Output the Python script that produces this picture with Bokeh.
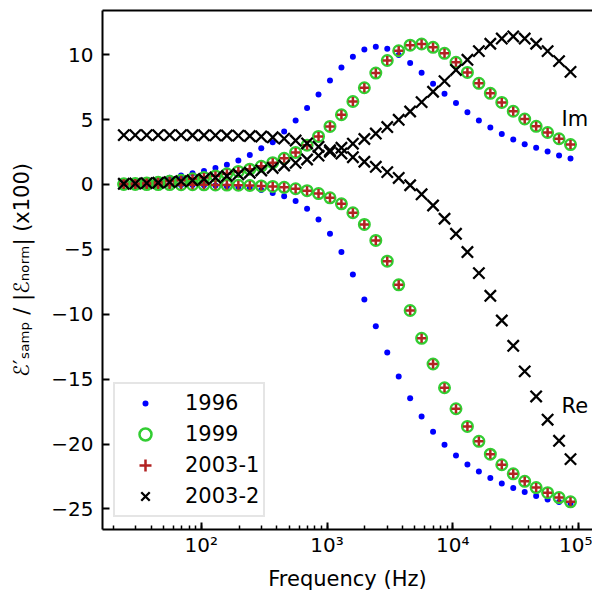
from bokeh.plotting import figure
from bokeh.models import (Range1d, FixedTicker, CustomJSTickFormatter, Legend, LegendItem,
                          LogAxis, Label)
from bokeh.embed import file_html
from bokeh.resources import INLINE

# ---- data ----
freq = [24.25, 29.91, 36.88, 45.49, 56.10, 69.18, 85.32, 105.2, 129.8, 160.0,
        197.4, 243.4, 300.2, 370.2, 456.5, 563.0, 694.4, 856.3, 1056, 1302,
        1606, 1981, 2443, 3013, 3715, 4581, 5649, 6967, 8592, 10598,
        13068, 16117, 19876, 24512, 30227, 37280, 45972, 56700, 69920, 86220]

re_1996 = [-0.01, -0.01, -0.02, -0.02, -0.03, -0.04, -0.05, -0.07, -0.09, -0.13,
           -0.19, -0.28, -0.43, -0.65, -0.90, -1.28, -1.87, -2.70, -3.80, -5.20,
           -6.93, -8.87, -10.93, -12.94, -14.79, -16.46, -17.87, -19.05, -20.05, -20.88,
           -21.57, -22.12, -22.62, -23.04, -23.39, -23.70, -24.00, -24.26, -24.47, -24.58]
im_1996 = [0.20, 0.25, 0.32, 0.40, 0.52, 0.68, 0.87, 1.03, 1.26, 1.52,
           1.85, 2.26, 2.78, 3.26, 4.08, 4.93, 5.88, 6.92, 8.00, 9.00,
           9.84, 10.39, 10.60, 10.45, 9.98, 9.35, 8.60, 7.76, 6.99, 6.27,
           5.57, 4.93, 4.38, 3.89, 3.47, 3.10, 2.82, 2.54, 2.23, 2.00]

re_1999 = [0.00, 0.00, -0.01, -0.01, -0.01, -0.02, -0.02, -0.03, -0.04, -0.05,
           -0.06, -0.08, -0.11, -0.15, -0.22, -0.33, -0.48, -0.70, -1.03, -1.49,
           -2.18, -3.08, -4.31, -5.91, -7.73, -9.71, -11.85, -13.83, -15.66, -17.28,
           -18.64, -19.79, -20.78, -21.59, -22.29, -22.87, -23.35, -23.74, -24.12, -24.45]
im_1999 = [0.05, 0.08, 0.12, 0.17, 0.24, 0.33, 0.43, 0.53, 0.66, 0.82,
           1.00, 1.18, 1.40, 1.68, 2.02, 2.47, 3.02, 3.70, 4.47, 5.37,
           6.39, 7.45, 8.58, 9.55, 10.30, 10.73, 10.82, 10.56, 10.10, 9.41,
           8.63, 7.79, 7.02, 6.32, 5.64, 5.04, 4.48, 4.00, 3.52, 3.07]

re_2003_1 = [0.00, 0.00, -0.01, -0.01, -0.01, -0.02, -0.02, -0.03, -0.04, -0.05,
             -0.06, -0.08, -0.11, -0.15, -0.22, -0.33, -0.48, -0.70, -1.03, -1.49,
             -2.18, -3.08, -4.31, -5.91, -7.73, -9.71, -11.85, -13.83, -15.66, -17.28,
             -18.64, -19.79, -20.78, -21.59, -22.29, -22.87, -23.35, -23.74, -24.12, -24.45]
im_2003_1 = [0.05, 0.08, 0.12, 0.17, 0.24, 0.33, 0.43, 0.53, 0.66, 0.82,
             1.00, 1.18, 1.40, 1.68, 2.02, 2.47, 3.02, 3.70, 4.47, 5.37,
             6.39, 7.45, 8.58, 9.55, 10.30, 10.73, 10.82, 10.56, 10.10, 9.41,
             8.63, 7.79, 7.02, 6.32, 5.64, 5.04, 4.48, 4.00, 3.52, 3.07]

re_2003_2 = [3.80, 3.80, 3.80, 3.80, 3.80, 3.80, 3.79, 3.79, 3.78, 3.77,
             3.76, 3.73, 3.69, 3.63, 3.53, 3.38, 3.16, 2.90, 2.63, 2.38,
             2.10, 1.75, 1.36, 0.95, 0.50, -0.06, -0.76, -1.62, -2.64, -3.80,
             -5.21, -6.83, -8.58, -10.48, -12.43, -14.40, -16.33, -18.12, -19.75, -21.16]
im_2003_2 = [0.05, 0.07, 0.10, 0.13, 0.18, 0.24, 0.32, 0.42, 0.53, 0.65,
             0.78, 0.90, 1.08, 1.27, 1.46, 1.66, 1.92, 2.22, 2.52, 2.82,
             3.14, 3.50, 3.92, 4.42, 4.98, 5.62, 6.34, 7.14, 7.96, 8.82,
             9.60, 10.27, 10.84, 11.24, 11.40, 11.24, 10.84, 10.27, 9.50, 8.67]

series_labels = ["1996", "1999", "2003-1", "2003-2"]
y_ticks = [-25, -20, -15, -10, -5, 0, 5, 10]

FONT = "DejaVu Sans"

p = figure(width=592, height=594, x_axis_type="log", output_backend="svg",
           toolbar_location=None,
           x_range=Range1d(16.42, 128960), y_range=Range1d(-26.58, 13.40),
           min_border_left=102, min_border_right=0, min_border_top=10,
           min_border_bottom=65)
p.outline_line_color = None
p.xgrid.visible = False
p.ygrid.visible = False
p.background_fill_color = "white"
p.border_fill_color = "white"

xa = p.below[0]
ya = p.left[0]

# top spine (plain line, no ticks or labels)
top = LogAxis(axis_line_width=2, axis_line_color="black",
              major_tick_in=0, major_tick_out=0,
              minor_tick_in=0, minor_tick_out=0,
              major_label_text_font_size="0px", major_label_standoff=0)
top.ticker = FixedTicker(ticks=[], minor_ticks=[])
p.add_layout(top, "above")

xa.axis_line_width = 2
xa.axis_line_color = "black"
xa.major_tick_in = 7
xa.major_tick_out = 0
xa.major_tick_line_width = 2
xa.major_tick_line_color = "black"
xa.minor_tick_in = 4
xa.minor_tick_out = 0
xa.minor_tick_line_width = 1.5
xa.minor_tick_line_color = "black"
xa.major_label_text_font = FONT
xa.major_label_text_font_size = "20px"
xa.major_label_text_color = "black"
xa.major_label_standoff = 3
xa.formatter = CustomJSTickFormatter(code="""
const sup = {"0":"\u2070","1":"\u00b9","2":"\u00b2","3":"\u00b3","4":"\u2074","5":"\u2075","6":"\u2076","7":"\u2077","8":"\u2078","9":"\u2079"};
const e = Math.round(Math.log10(tick));
return "10" + String(e).split("").map(c => sup[c]).join("");
""")
xa.axis_label = "Frequency (Hz)"
xa.axis_label_text_font = FONT
xa.axis_label_text_font_style = "normal"
xa.axis_label_text_font_size = "21px"
xa.axis_label_text_color = "black"
xa.axis_label_standoff = 7

ya.ticker = FixedTicker(ticks=y_ticks, minor_ticks=[])
ya.axis_line_width = 2
ya.axis_line_color = "black"
ya.major_tick_in = 7
ya.major_tick_out = 0
ya.major_tick_line_width = 2
ya.major_tick_line_color = "black"
ya.minor_tick_line_color = None
ya.major_label_text_font = FONT
ya.major_label_text_font_size = "20px"
ya.major_label_text_color = "black"
ya.major_label_standoff = 9
ya.formatter = CustomJSTickFormatter(code="""
return (tick < 0 ? "\u2212" : "") + Math.abs(tick).toString();
""")
ya.axis_label = "\u2130\u2032\u209b\u2090\u2098\u209a / |\u2130\u2099\u2092\u1d63\u2098| (x100)"
ya.axis_label_text_font = FONT
ya.axis_label_text_font_style = "normal"
ya.axis_label_text_font_size = "21px"
ya.axis_label_text_color = "black"
ya.axis_label_standoff = 14

BLUE = "blue"
GREEN = "limegreen"
RED = "firebrick"
BLACK = "black"

# legend key for the small blue dots: drawn first (under everything), its white
# ring only lands on the white background, and in the legend it leaves a small dot
blue_key = p.scatter(freq, im_1996, marker="circle", size=6, fill_color=BLUE,
                     line_color="white", line_width=6)

r96a = p.scatter(freq, re_1996, marker="circle", size=6, fill_color=BLUE, line_color=None)
r96b = p.scatter(freq, im_1996, marker="circle", size=6, fill_color=BLUE, line_color=None)
r99a = p.scatter(freq, re_1999, marker="circle", size=10.5, fill_color=None, line_color=GREEN, line_width=2.5)
r99b = p.scatter(freq, im_1999, marker="circle", size=10.5, fill_color=None, line_color=GREEN, line_width=2.5)
r31a = p.scatter(freq, re_2003_1, marker="cross", size=9, line_color=RED, line_width=2.5)
r31b = p.scatter(freq, im_2003_1, marker="cross", size=9, line_color=RED, line_width=2.5)
r32a = p.scatter(freq, re_2003_2, marker="x", size=16, line_color=BLACK, line_width=2.3)
r32b = p.scatter(freq, im_2003_2, marker="x", size=16, line_color=BLACK, line_width=2.3)

p.add_layout(Label(x=73100, y=5.08, text="Im", text_font=FONT, text_font_size="21px",
                   text_color="black", text_baseline="middle", text_align="left"))
p.add_layout(Label(x=73100, y=-17.03, text="Re", text_font=FONT, text_font_size="21px",
                   text_color="black", text_baseline="middle", text_align="left"))

legend = Legend(items=[LegendItem(label=series_labels[0], renderers=[blue_key]),
                       LegendItem(label=series_labels[1], renderers=[r99a]),
                       LegendItem(label=series_labels[2], renderers=[r31a]),
                       LegendItem(label=series_labels[3], renderers=[r32a])],
                location=(11, 12), orientation="vertical",
                label_text_font=FONT, label_text_font_size="21px",
                label_text_color="black",
                glyph_width=52, glyph_height=30, label_height=30,
                spacing=1, padding=4, label_standoff=14, margin=0,
                border_line_color="#cccccc", border_line_width=2,
                background_fill_color="white", background_fill_alpha=1.0)
p.add_layout(legend, "center")

open("out.html", "w").write(file_html(p, INLINE))
